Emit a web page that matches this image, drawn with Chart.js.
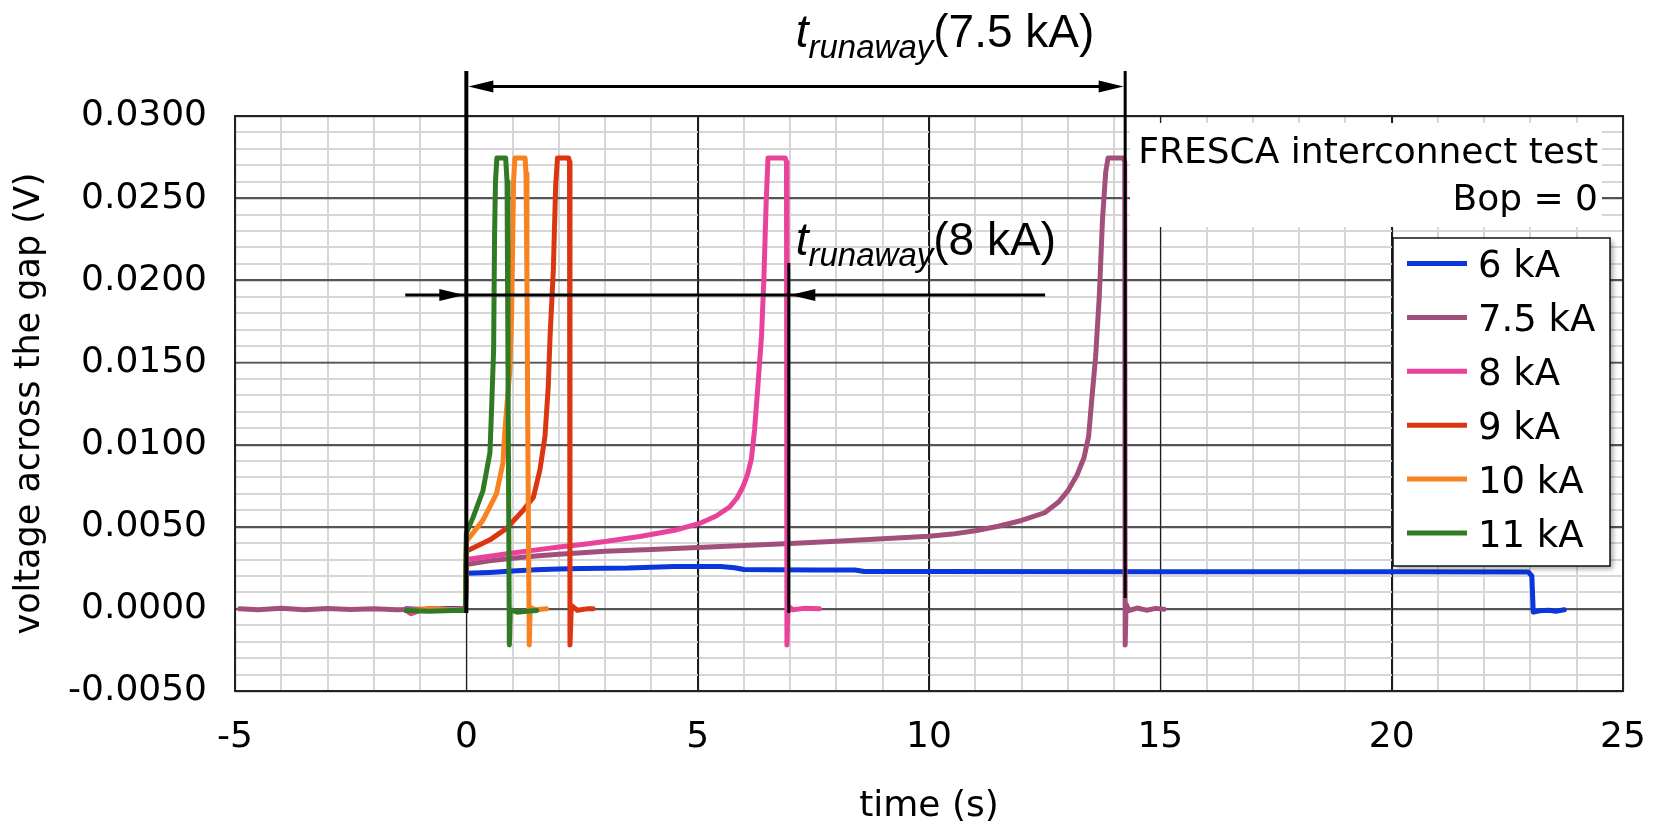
<!DOCTYPE html>
<html>
<head>
<meta charset="utf-8">
<script src="https://cdn.jsdelivr.net/npm/chart.js@4.4.1/dist/chart.umd.min.js"></script>
<style>
  html, body { margin: 0; padding: 0; background: #fff; }
  #wrap { width: 1653px; height: 824px; position: relative; }
</style>
</head>
<body>
<div id="wrap"><canvas id="c" width="1653" height="824"></canvas></div>
<script>
// FRESCA interconnect test, Bop = 0: voltage across the gap versus time
// for quenches at six transport currents.

const seriesLabels = ['6 kA', '7.5 kA', '8 kA', '9 kA', '10 kA', '11 kA'];
const seriesColors = ['#0a36dc', '#a34f7b', '#e8429a', '#dc3512', '#f7821f', '#2f7a22'];

// 6 kA
const t6kA = [-1.3, -0.9, -0.5, -0.02, 0.0, 0.5, 1.0, 1.5, 2.0, 2.5, 3.5, 4.0, 4.5, 5.5, 5.8, 6.0,
  6.6, 7.6, 8.4, 8.6, 10.0, 15.0, 20.0, 22.95, 23.03, 23.06, 23.2, 23.4, 23.55, 23.73];
const v6kA = [0.0, -0.00005, 0.00002, 0.0, 0.00216, 0.00222, 0.0023, 0.00238, 0.00242, 0.00246,
  0.00248, 0.00254, 0.00258, 0.00258, 0.0025, 0.0024, 0.00238, 0.00237, 0.00236, 0.00228,
  0.00227, 0.00226, 0.00226, 0.00225, 0.002, -0.0002, -0.00012, -0.00008, -0.00014, -0.00006];

// 7.5 kA
const t7p5kA = [-4.9, -4.5, -4.0, -3.5, -3.0, -2.5, -2.0, -1.5, -1.0, -0.5, -0.02,
  0.0, 0.5, 1.0, 1.5, 2.0, 2.5, 3.0, 4.0, 5.0, 6.0, 7.0, 8.0, 9.0, 10.0,
  10.5, 11.0, 11.5, 12.0, 12.5, 12.8, 13.0, 13.2, 13.35, 13.45,
  13.52, 13.6, 13.68, 13.75, 13.82, 13.87, 14.2, 14.23, 14.24, 14.26,
  14.32, 14.5, 14.7, 14.9, 15.08];
const v7p5kA = [0.0, -0.00005, 0.00003, -0.00006, 0.00002, -0.00004, 0.0, -0.00006, -0.00003, -0.00008, -0.00005,
  0.0027, 0.00292, 0.00308, 0.00322, 0.00333, 0.00342, 0.0035, 0.00362, 0.00374, 0.00385, 0.00398, 0.00412, 0.00426, 0.00442,
  0.00455, 0.00475, 0.00503, 0.00538, 0.00585, 0.0065, 0.00718, 0.00815, 0.0092, 0.0105,
  0.0128, 0.0153, 0.019, 0.0237, 0.0266, 0.02745, 0.02745, 0.0272, -0.0022, 0.0003,
  -0.0001, 0.00005, -0.00008, 0.00003, -0.00002];

// 8 kA
const t8kA = [-1.3, -1.2, -1.0, -0.5, -0.02, 0.0, 0.2, 0.5, 1.0, 1.6, 2.0, 2.5, 3.0, 3.75, 4.5,
  5.04, 5.4, 5.69, 5.85, 5.98, 6.08, 6.16, 6.23, 6.3, 6.38, 6.43, 6.48, 6.52, 6.89, 6.92,
  6.93, 6.95, 7.05, 7.3, 7.63];
const v8kA = [-0.0001, -0.0003, -0.0001, -0.0001, 0.0, 0.003, 0.00308, 0.0032, 0.0034, 0.00362,
  0.00376, 0.00392, 0.0041, 0.0044, 0.00478, 0.0052, 0.00565, 0.0062, 0.00675, 0.00744,
  0.0082, 0.0091, 0.0109, 0.0135, 0.0166, 0.02, 0.0247, 0.02745, 0.02745, 0.0272,
  -0.0022, 0.0002, -0.00005, 0.00003, 0.0];

// 9 kA
const t9kA = [-1.3, -0.8, -0.3, -0.02, 0.0, 0.51, 0.87, 1.23, 1.45, 1.59, 1.7, 1.77, 1.81, 1.88,
  1.93, 1.97, 2.21, 2.23, 2.24, 2.27, 2.4, 2.6, 2.74];
const v9kA = [-0.0001, 0.0, -0.0001, 0.0, 0.0035, 0.0042, 0.0049, 0.006, 0.0068, 0.00845, 0.0105,
  0.0135, 0.0166, 0.0206, 0.0257, 0.02745, 0.02745, 0.0272, -0.0022, 0.0002, -0.00008, 0.0, 0.0];

// 10 kA
const t10kA = [-1.3, -0.6, -0.02, 0.0, 0.36, 0.65, 0.79, 0.83, 0.88, 0.94, 0.98, 1.0, 1.02, 1.05,
  1.27, 1.29, 1.31, 1.33, 1.36, 1.38, 1.5, 1.73];
const v10kA = [-0.0001, 0.0, -0.0001, 0.0041, 0.0054, 0.007, 0.00886, 0.0107, 0.0125, 0.0145, 0.018,
  0.022, 0.026, 0.02745, 0.02745, 0.0265, 0.02, 0.01, -0.0022, 0.0001, -0.00005, 0.0];

// 11 kA
const t11kA = [-1.3, -0.8, -0.3, -0.02, 0.0, 0.15, 0.36, 0.51, 0.55, 0.59, 0.61, 0.63, 0.66, 0.85,
  0.88, 0.9, 0.93, 0.95, 1.1, 1.3, 1.52];
const v11kA = [-0.0001, -0.00015, -0.0001, -0.0001, 0.0046, 0.0056, 0.0072, 0.0095, 0.0125, 0.0158,
  0.0227, 0.026, 0.02745, 0.02745, 0.026, 0.015, -0.0022, -0.00005, -0.0002, -0.00015, -0.0001];

const seriesTimes = [t6kA, t7p5kA, t8kA, t9kA, t10kA, t11kA];
const seriesVolts = [v6kA, v7p5kA, v8kA, v9kA, v10kA, v11kA];

// Labelled (major) ticks; unlabelled minor grid every 1 s and every 0.001 V
const xMajorTicks = [-5, 0, 5, 10, 15, 20, 25];
const xTickLabels = ['-5', '0', '5', '10', '15', '20', '25'];
const yMajorTicks = [-0.005, 0.0, 0.005, 0.01, 0.015, 0.02, 0.025, 0.03];
const yTickLabels = ['-0.0050', '0.0000', '0.0050', '0.0100', '0.0150', '0.0200', '0.0250', '0.0300'];

// Runaway-time markers: quench onset at t = 0 and end of runaway for two currents
const runawayLabels = ['7.5 kA', '8 kA'];
const runawayEnd = [14.24, 6.97];          // s
const runawayArrowLevel = [0.0318, 0.0191]; // V
const runawayTextLevel = [0.0342, 0.02154]; // V (text baseline)
const runawayTextStart = [7.12, 7.12];      // s

const TICK_FONT = '"DejaVu Sans", Verdana, sans-serif';
const NOTE_FONT = '"Liberation Sans", Arial, sans-serif';

const MAJOR_X = '#1e1e1e', MAJOR_Y = '#555555', MINOR = '#d6d6d6';

function findIndex(list, v) {
  for (let i = 0; i < list.length; i++) if (Math.abs(list[i] - v) < 1e-9) return i;
  return -1;
}
const isMajorX = v => findIndex(xMajorTicks, v) >= 0;
const isMajorY = v => findIndex(yMajorTicks, v) >= 0;

const datasets = seriesLabels.map((label, k) => ({
  label,
  data: seriesTimes[k].map((t, i) => ({ x: t, y: seriesVolts[k][i] })),
  borderColor: seriesColors[k],
  backgroundColor: seriesColors[k],
  borderWidth: 5,
  pointRadius: 0,
  tension: 0,
  fill: false,
  borderJoinStyle: 'round',
  borderCapStyle: 'round',
  order: seriesLabels.length - k
}));

function arrowHead(ctx, tipX, y, dir) {
  const len = 25, half = 6;
  ctx.beginPath();
  ctx.moveTo(tipX, y);
  ctx.lineTo(tipX - dir * len, y - half);
  ctx.lineTo(tipX - dir * len, y + half);
  ctx.closePath();
  ctx.fill();
}

function runawayText(ctx, x, baseline, value) {
  ctx.textAlign = 'left';
  ctx.textBaseline = 'alphabetic';
  ctx.font = 'italic 46px ' + NOTE_FONT;
  ctx.fillText('t', x, baseline);
  x += ctx.measureText('t').width;
  ctx.font = 'italic 33px ' + NOTE_FONT;
  ctx.fillText('runaway', x, baseline + 11);
  x += ctx.measureText('runaway').width;
  ctx.font = '46px ' + NOTE_FONT;
  ctx.fillText('(' + value + ')', x, baseline);
}

const decor = {
  id: 'decor',
  beforeDatasetsDraw(chart) {
    const a = chart.chartArea, ctx = chart.ctx;
    const xs = chart.scales.x, ys = chart.scales.y;
    ctx.save();
    // major grid lines on top of the minor ones
    ctx.strokeStyle = MAJOR_Y;
    ctx.lineWidth = 1.6;
    yMajorTicks.forEach(v => {
      const y = Math.round(ys.getPixelForValue(v)) + 0.5;
      ctx.beginPath(); ctx.moveTo(a.left, y); ctx.lineTo(a.right, y); ctx.stroke();
    });
    ctx.strokeStyle = MAJOR_X;
    ctx.lineWidth = 1.2;
    xMajorTicks.forEach(v => {
      const x = Math.round(xs.getPixelForValue(v)) + 0.5;
      ctx.beginPath(); ctx.moveTo(x, a.top); ctx.lineTo(x, a.bottom); ctx.stroke();
    });
    // white panel behind the test caption
    ctx.fillStyle = '#ffffff';
    ctx.fillRect(a.right - 493, a.top + 7, 472, 104);
    ctx.restore();
  },
  afterDatasetsDraw(chart) {
    const a = chart.chartArea, ctx = chart.ctx;
    const xs = chart.scales.x, ys = chart.scales.y;
    const px = t => xs.getPixelForValue(t);
    const py = v => ys.getPixelForValue(v);
    ctx.save();

    // plot frame
    ctx.strokeStyle = '#222';
    ctx.lineWidth = 2;
    ctx.strokeRect(a.left, a.top, a.right - a.left, a.bottom - a.top);

    // caption
    ctx.fillStyle = '#000';
    ctx.font = '36px ' + TICK_FONT;
    ctx.textAlign = 'right';
    ctx.textBaseline = 'alphabetic';
    ctx.fillText('FRESCA interconnect test', a.right - 25, a.top + 47);
    ctx.fillText('Bop = 0', a.right - 25, a.top + 94);

    // legend
    const lx = a.right - 230, ly = a.top + 122, lw = 217, lh = 328;
    ctx.save();
    ctx.shadowColor = 'rgba(0,0,0,0.35)';
    ctx.shadowBlur = 5;
    ctx.shadowOffsetX = 3;
    ctx.shadowOffsetY = 3;
    ctx.fillStyle = '#fff';
    ctx.fillRect(lx, ly, lw, lh);
    ctx.restore();
    ctx.strokeStyle = '#111';
    ctx.lineWidth = 1.5;
    ctx.strokeRect(lx, ly, lw, lh);
    ctx.font = '37px ' + TICK_FONT;
    ctx.textAlign = 'left';
    ctx.textBaseline = 'alphabetic';
    chart.data.datasets.forEach((ds, i) => {
      const cy = ly + 25.5 + i * 53.9;
      ctx.strokeStyle = ds.borderColor;
      ctx.lineWidth = 5;
      ctx.lineCap = 'butt';
      ctx.beginPath();
      ctx.moveTo(lx + 14, cy);
      ctx.lineTo(lx + 74, cy);
      ctx.stroke();
      ctx.fillStyle = '#000';
      ctx.fillText(ds.label, lx + 85, cy + 13.6);
    });

    // runaway markers
    ctx.strokeStyle = '#000';
    ctx.fillStyle = '#000';
    ctx.lineCap = 'butt';
    const topV = 0.03274, lowV = -0.00025;
    const x0 = px(0), x75 = px(runawayEnd[0]), x8 = px(runawayEnd[1]);

    ctx.lineWidth = 4;
    ctx.beginPath(); ctx.moveTo(x0, py(topV)); ctx.lineTo(x0, py(lowV)); ctx.stroke();

    ctx.lineWidth = 3;
    ctx.beginPath(); ctx.moveTo(x75, py(topV)); ctx.lineTo(x75, py(0.00066)); ctx.stroke();
    ctx.beginPath(); ctx.moveTo(x8, py(0.02105)); ctx.lineTo(x8, py(lowV)); ctx.stroke();

    // 7.5 kA: double arrow between onset and end of runaway
    let yA = py(runawayArrowLevel[0]);
    ctx.beginPath(); ctx.moveTo(x0 + 10, yA); ctx.lineTo(x75 - 10, yA); ctx.stroke();
    arrowHead(ctx, x0 + 2, yA, -1);
    arrowHead(ctx, x75 - 1.5, yA, 1);

    // 8 kA: arrows pointing in from outside
    yA = py(runawayArrowLevel[1]);
    ctx.beginPath(); ctx.moveTo(px(-1.32), yA); ctx.lineTo(px(12.51), yA); ctx.stroke();
    arrowHead(ctx, x0 - 2, yA, 1);
    arrowHead(ctx, x8 + 1.5, yA, -1);

    runawayText(ctx, px(runawayTextStart[0]), py(runawayTextLevel[0]), runawayLabels[0]);
    runawayText(ctx, px(runawayTextStart[1]), py(runawayTextLevel[1]), runawayLabels[1]);

    ctx.restore();
  }
};

new Chart(document.getElementById('c'), {
  type: 'line',
  data: { datasets },
  options: {
    responsive: false,
    animation: false,
    devicePixelRatio: 1,
    layout: { padding: { top: 116, right: 30, left: 0, bottom: 0 } },
    plugins: { legend: { display: false }, tooltip: { enabled: false } },
    scales: {
      x: {
        type: 'linear',
        min: -5, max: 25,
        afterFit(s) { s.height = 133; s.paddingLeft = 0; s.paddingRight = 0; },
        border: { display: false },
        grid: {
          drawTicks: false,
          color: c => isMajorX(c.tick.value) ? MAJOR_X : MINOR,
          lineWidth: c => isMajorX(c.tick.value) ? 1.2 : 2
        },
        ticks: {
          stepSize: 1,
          autoSkip: false,
          maxRotation: 0, minRotation: 0,
          padding: 25,
          color: '#000',
          font: { family: TICK_FONT, size: 36 },
          callback: v => { const i = findIndex(xMajorTicks, v); return i >= 0 ? xTickLabels[i] : ''; }
        },
        title: {
          display: true, text: 'time (s)', color: '#000',
          font: { family: TICK_FONT, size: 36 },
          padding: { top: 0, bottom: -4 }
        }
      },
      y: {
        type: 'linear',
        min: -0.005, max: 0.03,
        afterFit(s) { s.width = 235; s.paddingTop = 0; s.paddingBottom = 0; },
        border: { display: false },
        grid: {
          drawTicks: false,
          color: c => isMajorY(c.tick.value) ? MAJOR_Y : MINOR,
          lineWidth: c => isMajorY(c.tick.value) ? 1.6 : 2
        },
        ticks: {
          stepSize: 0.001,
          autoSkip: false,
          padding: 28,
          color: '#000',
          font: { family: TICK_FONT, size: 36 },
          callback: v => { const i = findIndex(yMajorTicks, v); return i >= 0 ? yTickLabels[i] : ''; }
        },
        title: {
          display: true, text: 'voltage across the gap (V)', color: '#000',
          font: { family: TICK_FONT, size: 35 },
          padding: { top: 9, bottom: 0 }
        }
      }
    }
  },
  plugins: [decor]
});
</script>
</body>
</html>
